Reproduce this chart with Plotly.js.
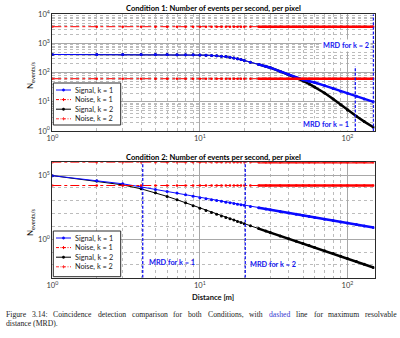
<!DOCTYPE html>
<html><head><meta charset="utf-8">
<script src="https://cdn.plot.ly/plotly-3.0.1.min.js"></script>
<style>html,body{margin:0;padding:0;background:#fff}#chart{width:400px;height:338px}</style>
</head><body><div id="chart"></div>
<script>
// ---- data ----
const DISTANCE = [1,2,3,4,5,6,7,8,9,10,11,12,13,14,15,16,17,18,19,20,22,25,28,30,35,40,45,50,55,60,70,80,90,100,115,130,150];
// Condition 1
const C1_SIGNAL_K1 = [420,420,420,418,418,416,414,412,408,404,398,390,380,368,355,338,315,298,280,262,228,192,165,148,110,84,68,57,51,46,36,28.5,23,19.5,15.5,12.5,10];
const C1_SIGNAL_K2 = [420,420,420,418,418,416,414,412,408,404,398,390,380,368,355,338,315,298,280,262,228,192,165,148,110,84,66,52,41,32,20,12.5,8,5.2,3.2,2.1,1.35];
const C1_NOISE_K1_LEVEL = 3760;
const C1_NOISE_K2_LEVEL = 62;
// Condition 2
const C2_SIGNAL_K1 = [91000,36000,21000,12000,7600,5200,4000,2950,2240,1740,1440,1210,1040,900,780,690,610,545,490,440,365,285,228,198,146,112,89,72,60,50,37,28.5,22.5,18.2,13.8,10.8,8.1];
const C2_SIGNAL_K2 = [91200,34700,17400,8500,4170,2190,1200,692,417,257,174,123,89,66,50,39,31,24.5,20,16.2,11.2,6.8,4.4,3.4,1.8,1.1,0.69,0.46,0.32,0.23,0.126,0.076,0.048,0.032,0.018,0.011,0.0063];
const C2_NOISE_K1_LEVEL = 1e6;
const C2_NOISE_K2_LEVEL = 1.55e4;
// maximum resolvable distance markers [k=1, k=2]
const MRD_C1 = [113, 150];
const MRD_C1_YSPAN = [[1, 165], [1, 1e4]];
const MRD_C2 = [4.1, 20.3];
const MRD_C2_YSPAN = [[1e-3, 1e6], [1e-3, 1e6]];
const SERIES_NAMES = ['Signal, k = 1', 'Noise, k = 1', 'Signal, k = 2', 'Noise, k = 2'];
const MRD_LABELS = ['MRD for k = 1', 'MRD for k = 2'];
const TITLES = ['Condition 1: Number of events per second, per pixel', 'Condition 2: Number of events per second, per pixel'];
const X_TICKS = [1, 10, 100];
const X_TICKTEXT = ['10<sup>0</sup>', '10<sup>1</sup>', '10<sup>2</sup>'];
const Y1_TICKS = [1, 10, 100, 1000, 10000];
const Y1_TICKTEXT = ['10<sup>0</sup>', '10<sup>1</sup>', '10<sup>2</sup>', '10<sup>3</sup>', '10<sup>4</sup>'];
const Y2_TICKS = [1, 1e5];
const Y2_TICKTEXT = ['10<sup>0</sup>', '10<sup>5</sup>'];
const X_LABEL = 'Distance [m]';
const Y_LABEL = 'N<sub>events/s</sub>';
const CAPTION_LINE1 = ['Figure', '3.14:', 'Coincidence', 'detection', 'comparison', 'for', 'both', 'Conditions,', 'with', 'dashed', 'line', 'for', 'maximum', 'resolvable'];
const CAPTION_HIGHLIGHT = 'dashed';
const CAPTION_LINE2 = 'distance (MRD).';

// ---- styling ----
const BLUE = '#0a0aff', RED = '#ff0000', BLACK = '#000000', MRDBLUE = '#1515f0';
const FONT = 'Lato, "Open Sans", sans-serif';
const SERIF = '"Liberation Serif"';
const TAIL_FROM = 25;
const W = 400, H = 338;
const px = x => x / W, py = y => 1 - y / H;

function seriesTraces(xa, ya, color, dash, sym, axes) {
  const tailIdx = xa.findIndex(d => d >= TAIL_FROM);
  const main = {
    x: xa, y: ya, xaxis: axes[0], yaxis: axes[1], type: 'scatter', mode: 'lines+markers',
    line: {color: color, width: 1, dash: dash},
    marker: sym === 'dot' ? {symbol: 'circle', size: 3, color: color}
                          : {symbol: 'circle', size: 2.6, color: color},
    showlegend: false, hoverinfo: 'skip'
  };
  const tail = {
    x: xa.slice(tailIdx), y: ya.slice(tailIdx), xaxis: axes[0], yaxis: axes[1], type: 'scatter', mode: 'lines',
    line: {color: color, width: 2.5}, showlegend: false, hoverinfo: 'skip'
  };
  return [main, tail];
}
const c1n1 = DISTANCE.map(() => C1_NOISE_K1_LEVEL);
const c1n2 = DISTANCE.map(() => C1_NOISE_K2_LEVEL);
const c2n1 = DISTANCE.map(() => C2_NOISE_K1_LEVEL);
const c2n2 = DISTANCE.map(() => C2_NOISE_K2_LEVEL);

let traces = [];
traces = traces.concat(seriesTraces(DISTANCE, C1_SIGNAL_K2, BLACK, 'solid', 'dot', ['x', 'y']));
traces = traces.concat(seriesTraces(DISTANCE, C1_SIGNAL_K1, BLUE, 'solid', 'dot', ['x', 'y']));
traces = traces.concat(seriesTraces(DISTANCE, c1n1, RED, 'dashdot', 'cross', ['x', 'y']));
traces = traces.concat(seriesTraces(DISTANCE, c1n2, RED, 'dashdot', 'cross', ['x', 'y']));
traces = traces.concat(seriesTraces(DISTANCE, C2_SIGNAL_K2, BLACK, 'solid', 'dot', ['x2', 'y2']));
traces = traces.concat(seriesTraces(DISTANCE, C2_SIGNAL_K1, BLUE, 'solid', 'dot', ['x2', 'y2']));
traces = traces.concat(seriesTraces(DISTANCE, c2n1, RED, 'dashdot', 'cross', ['x2', 'y2']));
traces = traces.concat(seriesTraces(DISTANCE, c2n2, RED, 'dashdot', 'cross', ['x2', 'y2']));
const MRD_DASH = '3px,1.6px';
MRD_C1.forEach((d, i) => traces.push({x: [d, d], y: MRD_C1_YSPAN[i], xaxis: 'x', yaxis: 'y', mode: 'lines',
  line: {color: MRDBLUE, width: 1.3, dash: MRD_DASH}, showlegend: false, hoverinfo: 'skip'}));
MRD_C2.forEach((d, i) => traces.push({x: [d, d], y: MRD_C2_YSPAN[i], xaxis: 'x2', yaxis: 'y2', mode: 'lines',
  line: {color: MRDBLUE, width: 1.3, dash: MRD_DASH}, showlegend: false, hoverinfo: 'skip'}));

const GRID = '#a8a8a8', MINOR = '#bcbcbc', FRAME = '#2a2a2a';
const tickFont = {family: FONT, size: 7.5, color: '#3a3a3a'};
function logAxis(extra) {
  return Object.assign({
    type: 'log', showline: true, mirror: true, linecolor: FRAME, linewidth: 1, ticks: '',
    showgrid: true, gridcolor: GRID, gridwidth: 1, zeroline: false, tickmode: 'array', tickfont: tickFont,
    minor: {dtick: 'D1', showgrid: true, gridcolor: MINOR, griddash: 'dot', gridwidth: 1}
  }, extra);
}
const XD = [52.3 / W, 374.5 / W];
const layout = {
  width: W, height: H, margin: {l: 0, r: 0, t: 0, b: 0}, paper_bgcolor: '#fff', plot_bgcolor: '#fff',
  showlegend: false, font: {family: FONT},
  xaxis: logAxis({domain: XD, anchor: 'y', range: [0, Math.log10(152.5)], tickvals: X_TICKS, ticktext: X_TICKTEXT}),
  yaxis: logAxis({domain: [py(131), py(14.3)], anchor: 'x', range: [0, 4], tickvals: Y1_TICKS, ticktext: Y1_TICKTEXT}),
  xaxis2: logAxis({domain: XD, anchor: 'y2', range: [0, Math.log10(152.5)], tickvals: X_TICKS, ticktext: X_TICKTEXT}),
  yaxis2: logAxis({domain: [py(277.7), py(162.3)], anchor: 'x2', range: [-3, 6], tickvals: Y2_TICKS, ticktext: Y2_TICKTEXT,
    minor: {dtick: 1, showgrid: true, gridcolor: MINOR, griddash: 'dot', gridwidth: 1}}),
  shapes: [], annotations: []
};
const A = layout.annotations, S = layout.shapes;
function ann(text, x, y, opts) {
  A.push(Object.assign({text: text, x: px(x), y: py(y), xref: 'paper', yref: 'paper', showarrow: false,
    xanchor: 'center', yanchor: 'middle', font: {family: FONT, size: 7.5, color: '#111'}}, opts || {}));
}
ann('<b>' + TITLES[0] + '</b>', 213, 8, {font: {family: FONT, size: 7.6, color: '#000'}});
ann('<b>' + TITLES[1] + '</b>', 213, 156.7, {font: {family: FONT, size: 7.6, color: '#000'}});
ann(Y_LABEL, 30, 75, {textangle: -90, font: {family: FONT, size: 8, color: '#111'}});
ann(Y_LABEL, 30, 222, {textangle: -90, font: {family: FONT, size: 8, color: '#111'}});
ann('<b>' + X_LABEL + '</b>', 213, 297, {font: {family: FONT, size: 7.6, color: '#111'}});

// caption: justified first line (words spread across the page width)
const CAP_SIZE = 7.7;
const ctx = document.createElement('canvas').getContext('2d');
ctx.font = CAP_SIZE + 'px "Liberation Serif"';
const widths = CAPTION_LINE1.map(w => ctx.measureText(w).width);
const totalW = widths.reduce((a, b) => a + b, 0);
const gap = (396 - 5 - totalW) / (CAPTION_LINE1.length - 1);
let cx = 5;
CAPTION_LINE1.forEach((w, i) => {
  ann(w, cx, 314.6, {xanchor: 'left', borderpad: 0,
    font: {family: SERIF, size: CAP_SIZE, color: w === CAPTION_HIGHLIGHT ? '#3a3ad0' : '#222'}});
  cx += widths[i] + gap;
});
ann(CAPTION_LINE2, 5, 323.2, {xanchor: 'left', borderpad: 0, font: {family: SERIF, size: CAP_SIZE, color: '#222'}});

// MRD labels
const mrdFont = {family: FONT, size: 7.3, color: MRDBLUE};
ann('<b>' + MRD_LABELS[1] + '</b>', 371, 45, {xanchor: 'right', bgcolor: '#fff', font: mrdFont, borderpad: 1});
ann('<b>' + MRD_LABELS[0] + '</b>', 351, 124, {xanchor: 'right', bgcolor: '#fff', font: mrdFont, borderpad: 1});
ann('<b>' + MRD_LABELS[0] + '</b>', 147, 262, {xanchor: 'left', font: mrdFont});
ann('<b>' + MRD_LABELS[1] + '</b>', 248, 264.5, {xanchor: 'left', font: mrdFont});

// legend boxes (drawn as paper shapes + text)
const LEG_STYLE = [
  {color: BLUE, dash: 'solid', sym: 'dot'},
  {color: RED, dash: 'dashdot', sym: 'cross'},
  {color: BLACK, dash: 'solid', sym: 'dot'},
  {color: '#ff3030', dash: 'dashdot', sym: 'cross'}
];
function legend(top, bottom) {
  S.push({type: 'rect', xref: 'paper', yref: 'paper', x0: px(53.3), x1: px(120.7), y0: py(bottom), y1: py(top),
    fillcolor: '#fff', line: {color: FRAME, width: 1}, layer: 'above'});
  SERIES_NAMES.forEach((name, i) => {
    const yy = top + 7 + i * 9.6, st = LEG_STYLE[i];
    S.push({type: 'line', xref: 'paper', yref: 'paper', x0: px(56), x1: px(71), y0: py(yy), y1: py(yy),
      line: {color: st.color, width: 1, dash: st.dash === 'dashdot' ? '3px,1.5px,1px,1.5px' : 'solid'}, layer: 'above'});
    if (st.sym === 'dot') {
      S.push({type: 'circle', xref: 'paper', yref: 'paper', x0: px(62.3), x1: px(64.7), y0: py(yy + 1.2), y1: py(yy - 1.2),
        fillcolor: st.color, line: {color: st.color, width: 0.5}, layer: 'above'});
    } else {
      S.push({type: 'line', xref: 'paper', yref: 'paper', x0: px(62), x1: px(65), y0: py(yy), y1: py(yy), line: {color: st.color, width: 1}, layer: 'above'});
      S.push({type: 'line', xref: 'paper', yref: 'paper', x0: px(63.5), x1: px(63.5), y0: py(yy - 1.5), y1: py(yy + 1.5), line: {color: st.color, width: 1}, layer: 'above'});
    }
    ann(name, 72.5, yy, {xanchor: 'left', font: {family: FONT, size: 7.3, color: '#222'}});
  });
}
legend(83, 125);
legend(231, 276.7);

Plotly.newPlot('chart', traces, layout, {staticPlot: true, displayModeBar: false});
</script></body></html>
